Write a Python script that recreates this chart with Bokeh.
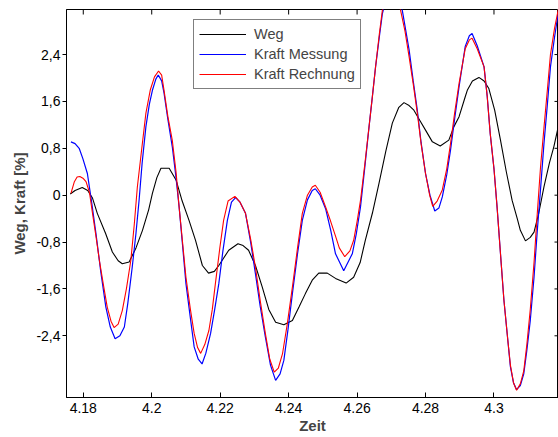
import math
from bokeh.plotting import figure
from bokeh.models import Range1d, FixedTicker, Legend, LegendItem
from bokeh.embed import file_html
from bokeh.resources import INLINE

# ---- data ----
weg_t = [4.1762, 4.1776, 4.1797, 4.1813, 4.1827, 4.1841, 4.1865, 4.1885, 4.1902, 4.1914,
         4.1934, 4.1954, 4.1973, 4.1991, 4.2002, 4.2015, 4.2027, 4.2051, 4.2071, 4.2089,
         4.2109, 4.2128, 4.2148, 4.2166, 4.2183, 4.2196, 4.2225, 4.2252, 4.2267, 4.2283,
         4.2303, 4.2323, 4.2342, 4.2362, 4.2386, 4.2411, 4.2431, 4.2449, 4.2469, 4.2488,
         4.2513, 4.2537, 4.2568, 4.2590, 4.2609, 4.2624, 4.2645, 4.2664, 4.2684, 4.2703,
         4.2722, 4.2737, 4.2752, 4.2766, 4.2783, 4.2800, 4.2820, 4.2843, 4.2868, 4.2883,
         4.2898, 4.2916, 4.2922, 4.2937, 4.2956, 4.2971, 4.2985, 4.3002, 4.3019, 4.3036,
         4.3053, 4.3068, 4.3077, 4.3092, 4.3106, 4.3117, 4.3131, 4.3146, 4.3162, 4.3175,
         4.3189]
weg_v = [0.02, 0.08, 0.13, 0.08, -0.05, -0.31, -0.65, -0.97, -1.12, -1.17,
         -1.14, -0.90, -0.60, -0.25, 0.03, 0.30, 0.46, 0.46, 0.26, -0.10,
         -0.43, -0.77, -1.20, -1.33, -1.30, -1.20, -0.94, -0.83, -0.86, -0.94,
         -1.20, -1.57, -1.95, -2.17, -2.21, -2.14, -1.90, -1.68, -1.45, -1.33,
         -1.33, -1.42, -1.50, -1.40, -1.15, -0.77, -0.30, 0.20, 0.75, 1.23,
         1.50, 1.58, 1.53, 1.45, 1.28, 1.11, 0.91, 0.84, 0.94, 1.17,
         1.34, 1.68, 1.79, 1.95, 2.01, 1.95, 1.82, 1.45, 0.94, 0.40,
         -0.09, -0.40, -0.60, -0.78, -0.72, -0.63, -0.30, 0.14, 0.55, 0.83,
         1.20]

mess_t = [4.1764, 4.1776, 4.1788, 4.1799, 4.1812, 4.1824, 4.1837, 4.1851, 4.1866, 4.1879,
          4.1893, 4.1907, 4.1920, 4.1930, 4.1943, 4.1954, 4.1963, 4.1972, 4.1983, 4.1993,
          4.2002, 4.2012, 4.2019, 4.2029, 4.2036, 4.2047, 4.2060, 4.2071, 4.2080, 4.2090,
          4.2100, 4.2113, 4.2124, 4.2136, 4.2147, 4.2158, 4.2172, 4.2184, 4.2196, 4.2208,
          4.2221, 4.2233, 4.2245, 4.2258, 4.2274, 4.2289, 4.2303, 4.2317, 4.2332, 4.2347,
          4.2362, 4.2375, 4.2386, 4.2398, 4.2411, 4.2426, 4.2440, 4.2455, 4.2469, 4.2478,
          4.2492, 4.2508, 4.2523, 4.2537, 4.2561, 4.2586, 4.2598, 4.2610, 4.2623, 4.2635,
          4.2645, 4.2654, 4.2665, 4.2674, 4.2689, 4.2704, 4.2719, 4.2732, 4.2752, 4.2764,
          4.2776, 4.2787, 4.2800, 4.2813, 4.2827, 4.2839, 4.2849, 4.2862, 4.2873, 4.2885,
          4.2898, 4.2916, 4.2928, 4.2936, 4.2951, 4.2971, 4.2980, 4.2989, 4.3000, 4.3009,
          4.3019, 4.3029, 4.3040, 4.3048, 4.3057, 4.3066, 4.3077, 4.3087, 4.3096, 4.3106,
          4.3117, 4.3126, 4.3136, 4.3146, 4.3156, 4.3165, 4.3177, 4.3189]
mess_v = [0.91, 0.88, 0.80, 0.62, 0.37, -0.10, -0.65, -1.30, -1.91, -2.25,
          -2.45, -2.40, -2.25, -1.85, -1.23, -0.65, -0.09, 0.55, 1.17, 1.55,
          1.79, 1.98, 2.05, 1.95, 1.74, 1.30, 0.83, 0.30, -0.20, -0.85,
          -1.51, -2.10, -2.59, -2.80, -2.88, -2.70, -2.36, -1.95, -1.51, -0.95,
          -0.43, -0.12, -0.04, -0.12, -0.31, -0.80, -1.34, -1.90, -2.42, -2.90,
          -3.16, -3.05, -2.82, -2.30, -1.68, -1.00, -0.43, -0.08, 0.08, 0.11,
          0.00, -0.23, -0.60, -1.00, -1.29, -1.00, -0.65, -0.20, 0.50, 1.17,
          1.70, 2.19, 2.70, 3.10, 3.45, 3.60, 3.45, 3.16, 2.48, 1.95,
          1.45, 0.90, 0.37, 0.00, -0.27, -0.22, -0.03, 0.35, 0.77, 1.30,
          1.85, 2.54, 2.72, 2.76, 2.55, 2.19, 1.70, 1.05, 0.45, -0.20,
          -1.00, -1.79, -2.45, -2.93, -3.20, -3.32, -3.25, -3.05, -2.65, -2.14,
          -1.40, -0.65, 0.10, 0.88, 1.55, 2.19, 2.70, 3.16]

rech_t = [4.1764, 4.1774, 4.1782, 4.1790, 4.1799, 4.1808, 4.1818, 4.1827, 4.1837, 4.1847,
          4.1858, 4.1870, 4.1881, 4.1890, 4.1902, 4.1914, 4.1926, 4.1939, 4.1949, 4.1958,
          4.1971, 4.1983, 4.1996, 4.2008, 4.2020, 4.2029, 4.2036, 4.2047, 4.2060, 4.2071,
          4.2080, 4.2090, 4.2100, 4.2113, 4.2124, 4.2134, 4.2143, 4.2155, 4.2167, 4.2177,
          4.2186, 4.2199, 4.2210, 4.2223, 4.2243, 4.2258, 4.2274, 4.2289, 4.2303, 4.2317,
          4.2332, 4.2345, 4.2358, 4.2370, 4.2382, 4.2396, 4.2411, 4.2426, 4.2440, 4.2455,
          4.2469, 4.2478, 4.2492, 4.2508, 4.2523, 4.2537, 4.2548, 4.2564, 4.2579, 4.2590,
          4.2600, 4.2610, 4.2623, 4.2635, 4.2645, 4.2654, 4.2665, 4.2674, 4.2689, 4.2703,
          4.2717, 4.2727, 4.2740, 4.2752, 4.2764, 4.2776, 4.2787, 4.2800, 4.2812, 4.2821,
          4.2834, 4.2849, 4.2862, 4.2873, 4.2885, 4.2898, 4.2916, 4.2928, 4.2936, 4.2951,
          4.2971, 4.2980, 4.2989, 4.3000, 4.3009, 4.3019, 4.3029, 4.3040, 4.3048, 4.3057,
          4.3066, 4.3077, 4.3087, 4.3096, 4.3106, 4.3117, 4.3126, 4.3136, 4.3146, 4.3156,
          4.3165, 4.3177, 4.3189]
rech_v = [0.03, 0.23, 0.31, 0.32, 0.29, 0.23, 0.05, -0.31, -0.70, -1.11,
          -1.50, -1.91, -2.15, -2.26, -2.20, -1.97, -1.60, -1.11, -0.50, 0.14,
          0.80, 1.40, 1.80, 2.02, 2.12, 2.05, 1.79, 1.35, 0.94, 0.40,
          -0.20, -0.80, -1.40, -1.95, -2.36, -2.60, -2.70, -2.55, -2.31, -1.95,
          -1.51, -0.90, -0.43, -0.10, -0.02, -0.12, -0.31, -0.75, -1.23, -1.80,
          -2.36, -2.80, -3.02, -2.95, -2.71, -2.20, -1.57, -0.90, -0.31, 0.00,
          0.14, 0.17, 0.05, -0.20, -0.45, -0.70, -0.90, -1.05, -0.95, -0.77,
          -0.45, -0.09, 0.55, 1.17, 1.70, 2.19, 2.75, 3.16, 3.45, 3.55,
          3.40, 3.16, 2.80, 2.36, 1.90, 1.40, 0.88, 0.37, 0.00, -0.19,
          -0.10, 0.09, 0.45, 0.88, 1.40, 1.91, 2.50, 2.65, 2.68, 2.50,
          2.19, 1.70, 1.05, 0.45, -0.20, -1.00, -1.79, -2.45, -2.90, -3.20,
          -3.33, -3.22, -3.00, -2.55, -1.95, -1.15, -0.35, 0.48, 1.15, 1.80,
          2.40, 2.85, 3.20]

x_ticks = [4.18, 4.20, 4.22, 4.24, 4.26, 4.28, 4.30]
x_labels = ["4.18", "4.2", "4.22", "4.24", "4.26", "4.28", "4.3"]
y_ticks = [-2.4, -1.6, -0.8, 0.0, 0.8, 1.6, 2.4]
y_labels = ["-2,4", "-1,6", "-0,8", "0", "0,8", "1,6", "2,4"]
series_names = ["Weg", "Kraft Messung", "Kraft Rechnung"]

X0, X1 = 4.1751, 4.31885
Y0, Y1 = -3.453, 3.169

FONT = "Liberation Sans"

p = figure(width=558, height=437, output_backend="svg", toolbar_location=None,
           x_range=Range1d(X0, X1), y_range=Range1d(Y0, Y1),
           min_border_left=66, min_border_right=0, min_border_top=9, min_border_bottom=40)
p.xgrid.visible = False
p.ygrid.visible = False
p.outline_line_color = "black"
p.outline_line_width = 1
p.background_fill_color = "white"
p.border_fill_color = "white"

xa = p.xaxis[0]
xa.ticker = FixedTicker(ticks=x_ticks)
xa.major_label_overrides = {t: l for t, l in zip(x_ticks, x_labels)}
xa.major_tick_in = 5
xa.major_tick_out = 0
xa.minor_tick_line_color = None
xa.major_label_standoff = 5
xa.major_label_text_font = FONT
xa.major_label_text_font_size = "14px"
xa.major_label_text_color = "black"
xa.axis_label = "Zeit"
xa.axis_label_text_font = FONT
xa.axis_label_text_font_size = "15px"
xa.axis_label_text_font_style = "bold"
xa.axis_label_standoff = 1
xa.axis_line_color = "black"

ya = p.yaxis[0]
ya.ticker = FixedTicker(ticks=y_ticks)
ya.major_label_overrides = {t: l for t, l in zip(y_ticks, y_labels)}
ya.major_tick_in = 0
ya.major_tick_out = 4
ya.minor_tick_line_color = None
ya.major_label_standoff = 2
ya.major_label_text_font = FONT
ya.major_label_text_font_size = "14px"
ya.major_label_text_color = "black"
ya.axis_label = "Weg, Kraft [%]"
ya.axis_label_text_font = FONT
ya.axis_label_text_font_size = "15px"
ya.axis_label_text_font_style = "bold"
ya.axis_label_standoff = 5
ya.axis_line_color = "black"

# mirrored box ticks on the top and right edges (screen-length rays from the frame)
p.ray(x=x_ticks, y=[Y1] * len(x_ticks), length=5, length_units="screen",
      angle=-math.pi / 2, line_color="black", line_width=1)
p.ray(x=[X1] * len(y_ticks), y=y_ticks, length=4, length_units="screen",
      angle=math.pi, line_color="black", line_width=1)

r_weg = p.line(weg_t, weg_v, line_color="black", line_width=1.1)
r_mess = p.line(mess_t, mess_v, line_color="#0000ff", line_width=1.2)
r_rech = p.line(rech_t, rech_v, line_color="#ff0000", line_width=1.1)

legend = Legend(items=[LegendItem(label=series_names[0], renderers=[r_weg]),
                       LegendItem(label=series_names[1], renderers=[r_mess]),
                       LegendItem(label=series_names[2], renderers=[r_rech])],
                location=(127, 308), padding=5, spacing=2, glyph_width=47, glyph_height=18,
                label_height=18, label_standoff=8, margin=0,
                label_text_font=FONT, label_text_font_size="14.5px",
                border_line_color="black", border_line_width=1.5,
                background_fill_color="white", background_fill_alpha=1)
p.add_layout(legend, "center")

open("out.html", "w").write(file_html(p, INLINE))
